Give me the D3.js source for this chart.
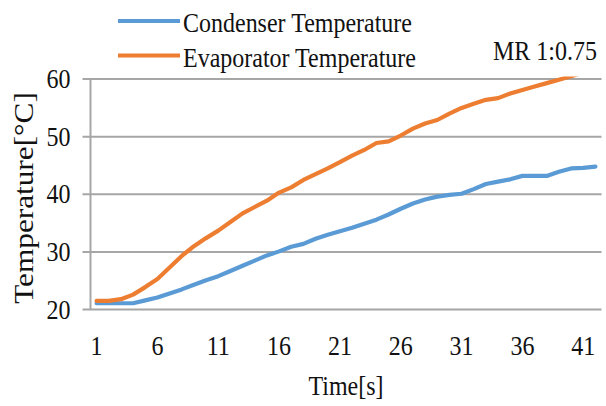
<!DOCTYPE html>
<html>
<head>
<meta charset="utf-8">
<script src="https://cdn.jsdelivr.net/npm/d3@7"></script>
<style>
  body { margin: 0; background: #fff; }
</style>
</head>
<body>
<svg id="chart"></svg>
<script>
const time = d3.range(1, 43);
const condenser = [21.0, 21.0, 21.0, 21.0, 21.5, 22.0, 22.7, 23.4, 24.2, 25.0,
  25.7, 26.6, 27.5, 28.4, 29.3, 30.0, 30.8, 31.3, 32.2, 32.9,
  33.5, 34.1, 34.8, 35.5, 36.4, 37.4, 38.3, 39.0, 39.5, 39.8,
  40.0, 40.8, 41.7, 42.1, 42.5, 43.1, 43.1, 43.1, 43.8, 44.4,
  44.5, 44.7];
const evaporator = [21.4, 21.4, 21.7, 22.5, 23.8, 25.2, 27.2, 29.2, 30.9, 32.3,
  33.6, 35.1, 36.6, 37.7, 38.8, 40.2, 41.1, 42.4, 43.4, 44.4,
  45.5, 46.6, 47.6, 48.8, 49.1, 50.1, 51.3, 52.2, 52.8, 53.9,
  54.9, 55.6, 56.3, 56.6, 57.4, 58.0, 58.6, 59.2, 59.8, 60.4,
  61.0, 61.6];
const xTickLabels = [1, 6, 11, 16, 21, 26, 31, 36, 41];
const yTicks = [20, 30, 40, 50, 60];
const seriesNames = ["Condenser Temperature", "Evaporator Temperature"];

const width = 606, height = 406;
const plotLeft = 90.5, plotRight = 601.5, plotTop = 78.5, plotBottom = 309;
const FONT = "'Liberation Serif', 'Times New Roman', serif";
const stretch = 1.18; // the source picture is a bit taller than wide

const svg = d3.select("#chart")
  .attr("width", width)
  .attr("height", height);

const x = d3.scaleBand().domain(time).range([plotLeft, plotRight]);
const y = d3.scaleLinear().domain([20, 60]).range([plotBottom, plotTop]);

const series = [
  { name: seriesNames[0], values: condenser, color: "#5b9bd5" },
  { name: seriesNames[1], values: evaporator, color: "#ed7d31" }
];

// serif text, baseline placed at (tx, ty), stretched vertically
function serif(sel, tx, ty, size) {
  sel.style("font-family", FONT)
    .style("font-size", (size || 24) + "px")
    .attr("fill", "#111")
    .attr("x", 0).attr("y", 0).attr("dy", null)
    .attr("transform", "translate(" + tx + "," + ty + ") scale(1," + stretch + ")");
}

// gridlines + y axis
const yAxis = svg.append("g")
  .attr("transform", "translate(" + plotLeft + ",0)")
  .call(d3.axisLeft(y).tickValues(yTicks).tickSize(-(plotRight - plotLeft)));
yAxis.select(".domain").remove();
yAxis.selectAll(".tick line")
  .attr("x1", -8)
  .attr("stroke", "#a6a6a6")
  .attr("stroke-width", 2);
yAxis.selectAll(".tick text").call(serif, -20, 9);

svg.append("line")
  .attr("x1", plotLeft).attr("x2", plotLeft)
  .attr("y1", plotTop).attr("y2", plotBottom)
  .attr("stroke", "#a6a6a6")
  .attr("stroke-width", 2);

// x axis labels
const xAxis = svg.append("g")
  .attr("transform", "translate(0," + plotBottom + ")")
  .call(d3.axisBottom(x).tickValues(xTickLabels).tickSize(0));
xAxis.select(".domain").remove();
xAxis.selectAll(".tick text").call(serif, 0, 46);

svg.append("clipPath").attr("id", "plot-clip")
  .append("rect")
  .attr("x", plotLeft).attr("y", plotTop - 2)
  .attr("width", plotRight - plotLeft).attr("height", plotBottom - plotTop + 4);

const line = d3.line()
  .x((d, i) => x(time[i]) + x.bandwidth() / 2)
  .y(d => y(d));

svg.append("g").attr("clip-path", "url(#plot-clip)")
  .selectAll("path")
  .data(series)
  .join("path")
  .attr("d", d => line(d.values))
  .attr("fill", "none")
  .attr("stroke", d => d.color)
  .attr("stroke-width", 4.2)
  .attr("stroke-linejoin", "round")
  .attr("stroke-linecap", "round");

// legend
const legend = svg.append("g").selectAll("g")
  .data(series)
  .join("g")
  .attr("transform", (d, i) => "translate(118," + (21 + i * 34.5) + ")");
legend.append("line")
  .attr("x1", 0).attr("x2", 62)
  .attr("stroke", d => d.color)
  .attr("stroke-width", 4.2);
legend.append("text")
  .call(serif, 65, 11)
  .text(d => d.name);

svg.append("text")
  .attr("text-anchor", "end")
  .call(serif, 597, 60)
  .text("MR 1:0.75");

svg.append("text")
  .attr("text-anchor", "middle")
  .call(serif, 0, 0, 26.5)
  .attr("transform", "translate(33,198) scale(1," + stretch + ") rotate(-90)")
  .text("Temperature[°C]");

svg.append("text")
  .attr("text-anchor", "middle")
  .call(serif, 346, 395)
  .text("Time[s]");
</script>
</body>
</html>
